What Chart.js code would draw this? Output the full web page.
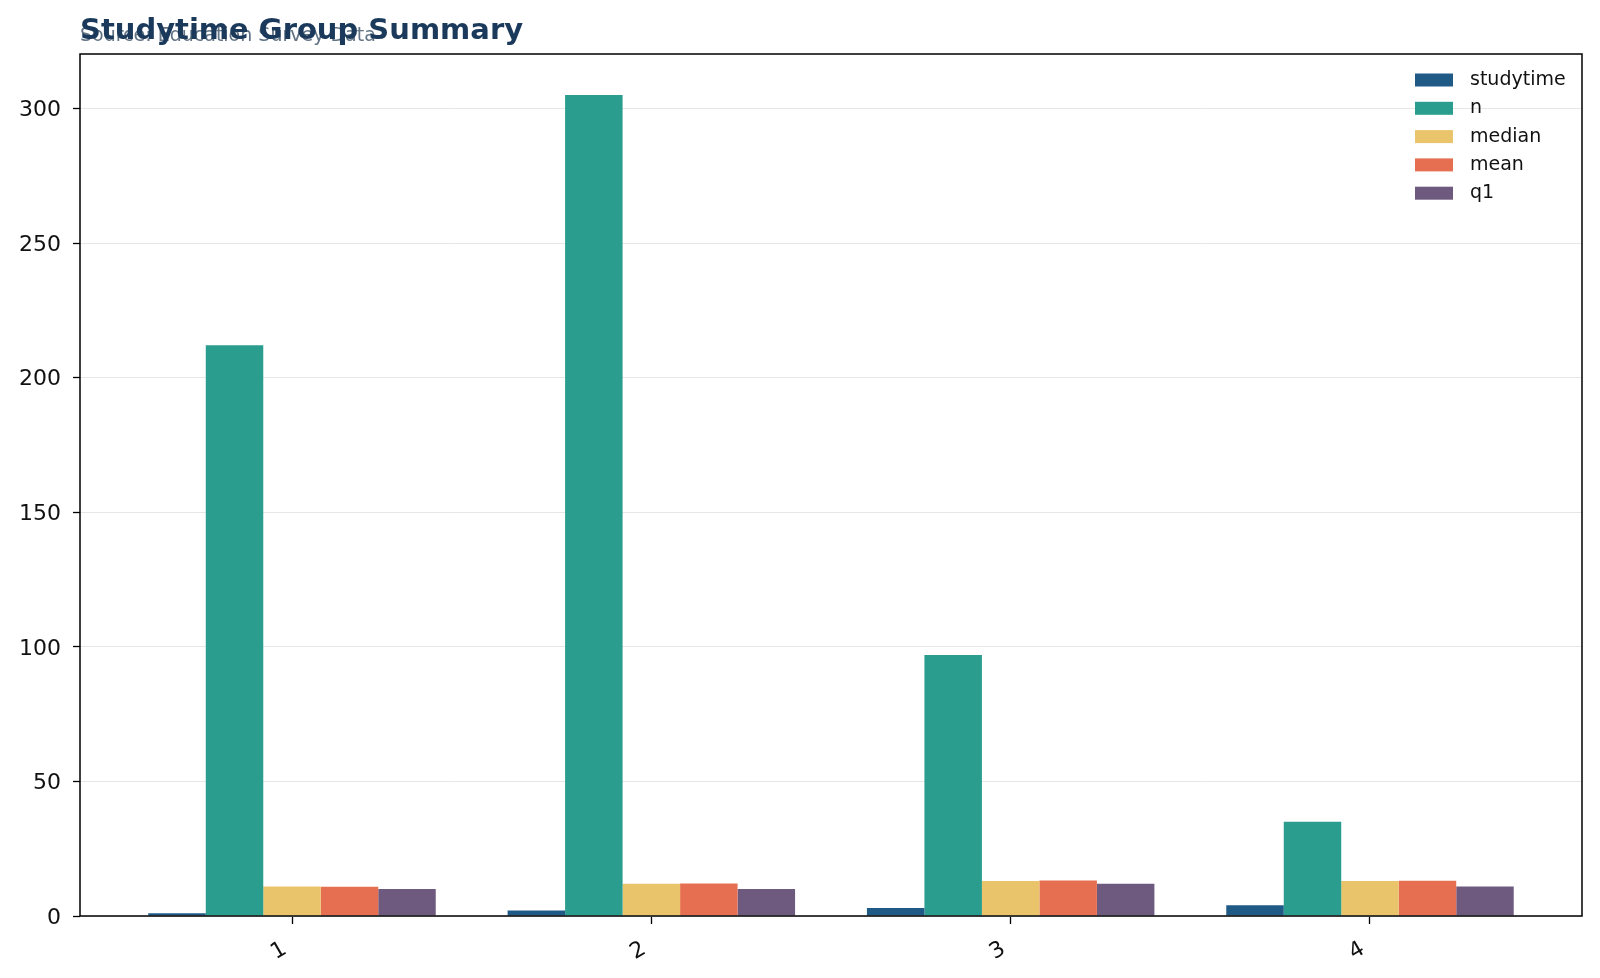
<!DOCTYPE html>
<html>
<head>
<meta charset="utf-8">
<script src="https://cdn.jsdelivr.net/npm/chart.js@4"></script>
<style>
  body { margin: 0; background: #fff; }
  #wrap { width: 1600px; height: 978px; }
</style>
</head>
<body>
<div id="wrap"><canvas id="myChart"></canvas></div>
<script>
// data
var categories = ['1', '2', '3', '4']
var studytime = [1, 2, 3, 4]
var nCount = [212, 305, 97, 35]
var median = [11, 12, 13, 13]
var mean = [10.84, 12.09, 13.23, 13.06]
var q1 = [10, 10, 12, 11]
var yTicks = [0, 50, 100, 150, 200, 250, 300]

var seriesNames = ['studytime', 'n', 'median', 'mean', 'q1']
var seriesColors = ['#1f5a87', '#2a9d8f', '#e9c46a', '#e76f51', '#6d5a7e']
var seriesValues = [studytime, nCount, median, mean, q1]

var font = 'DejaVu Sans'

// turn each series into {x,y} points on a linear x axis
function points(arr) {
  return arr.map(function (v, i) { return { x: i, y: v } })
}

var datasets = seriesNames.map(function (name, k) {
  return {
    label: name,
    data: points(seriesValues[k]),
    backgroundColor: seriesColors[k],
    borderWidth: 0,
    categoryPercentage: 0.8,
    barPercentage: 1.0
  }
})

// black box round the plot area
var framePlugin = {
  id: 'frame',
  afterDraw: function (chart) {
    var a = chart.chartArea, ctx = chart.ctx
    ctx.save()
    ctx.strokeStyle = '#000'
    ctx.lineWidth = 1.5
    ctx.strokeRect(a.left, a.top, a.right - a.left, a.bottom - a.top)
    ctx.restore()
  }
}

// legend in the upper right corner, inside the plot
var legendPlugin = {
  id: 'cornerLegend',
  afterDraw: function (chart) {
    var ctx = chart.ctx
    ctx.save()
    ctx.font = '19px "' + font + '"'
    ctx.textBaseline = 'middle'
    ctx.textAlign = 'left'
    chart.data.datasets.forEach(function (ds, i) {
      var cy = 80 + i * 28.3
      ctx.fillStyle = ds.backgroundColor
      ctx.fillRect(1415, cy - 6.5, 38, 13)
      ctx.fillStyle = '#111'
      ctx.fillText(ds.label, 1470, cy)
    })
    ctx.restore()
  }
}

var mychart = document.getElementById('myChart').getContext('2d')

var chart = new Chart(mychart, {
  type: 'bar',
  data: { datasets: datasets },
  plugins: [framePlugin, legendPlugin],
  options: {
    responsive: true,
    maintainAspectRatio: false,
    animation: false,
    layout: { padding: { left: 0, right: 18, top: 0, bottom: 0 } },
    plugins: {
      legend: { display: false },
      tooltip: { enabled: false },
      title: {
        display: true,
        fullSize: false,
        text: 'Studytime Group Summary',
        align: 'start',
        color: '#1b3a5b',
        font: { family: font, size: 29, weight: 'bold' },
        padding: { top: 14, bottom: 0 }
      },
      subtitle: {
        display: true,
        fullSize: false,
        text: 'Source: Education Survey Data',
        align: 'start',
        color: '#627384',
        font: { family: font, size: 19 },
        padding: { top: -24, bottom: 6.4 }
      }
    },
    scales: {
      x: {
        type: 'linear',
        min: -0.59,
        max: 3.59,
        offset: false,
        border: { display: false },
        grid: { display: true, offset: false, drawOnChartArea: false, drawTicks: true, tickLength: 8, tickColor: '#000', tickWidth: 1.3 },
        afterBuildTicks: function (s) {
          s.ticks = categories.map(function (c, i) { return { value: i } })
        },
        afterFit: function (s) { s.height = 62 },
        ticks: {
          autoSkip: false,
          minRotation: 30,
          maxRotation: 30,
          padding: 12,
          labelOffset: -7,
          color: '#111',
          font: { family: font, size: 22 },
          callback: function (v) { return categories[v] }
        }
      },
      y: {
        min: 0,
        max: 320.25,
        border: { display: false },
        grid: { color: '#e6e6e6', lineWidth: 1, drawTicks: true, tickLength: 7, tickColor: '#000', tickWidth: 1.3 },
        afterBuildTicks: function (s) {
          s.ticks = yTicks.map(function (v) { return { value: v } })
        },
        afterFit: function (s) { s.width = 80 },
        ticks: {
          padding: 12,
          labelOffset: 2,
          color: '#111',
          font: { family: font, size: 22 }
        }
      }
    }
  }
})
</script>
</body>
</html>
